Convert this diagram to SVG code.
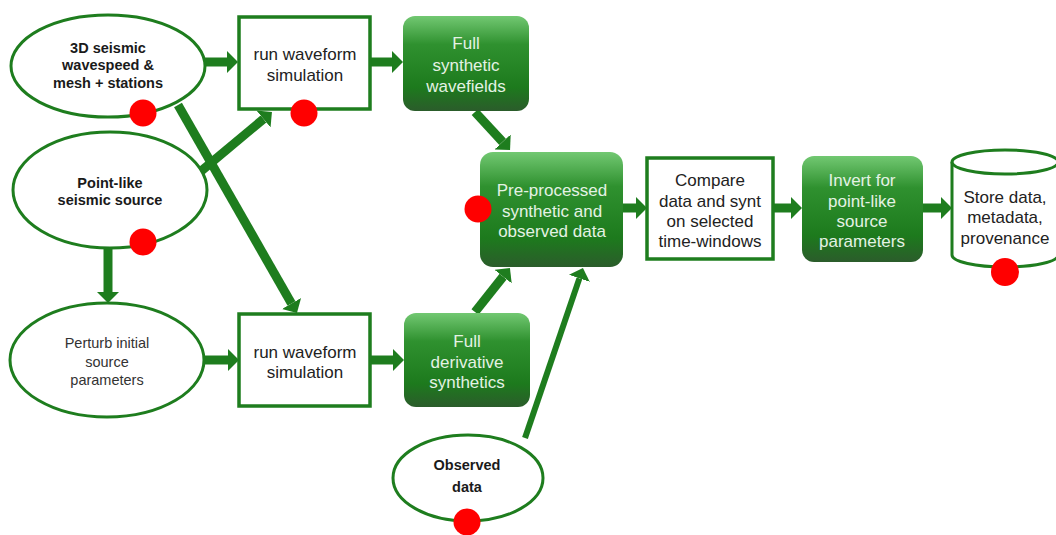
<svg xmlns="http://www.w3.org/2000/svg" width="1056" height="535" viewBox="0 0 1056 535">
<defs>
<linearGradient id="gg" x1="0" y1="0" x2="0" y2="1">
<stop offset="0" stop-color="#72c872"/>
<stop offset="0.3" stop-color="#2f912f"/>
<stop offset="0.75" stop-color="#1d7a1d"/>
<stop offset="1" stop-color="#2b5c2b"/>
</linearGradient>
<marker id="ah" markerUnits="userSpaceOnUse" markerWidth="12" markerHeight="22" refX="0" refY="11" orient="auto">
<path d="M0,0 L11,11 L0,22 z" fill="#1e7d1e"/>
</marker>
</defs>
<style>
.ell{fill:#fff;stroke:#1e7d1e;stroke-width:3}
.box{fill:#fff;stroke:#1e7d1e;stroke-width:3.5}
.gbox{fill:url(#gg);stroke:none}
.dot{fill:#ff0000}
.con{stroke:#1e7d1e;stroke-width:9;fill:none;marker-end:url(#ah)}
.thin{stroke-width:6}
text{font-family:"Liberation Sans",Arial,sans-serif;text-anchor:middle}
.b{font-weight:bold;font-size:14.5px;fill:#1a1a1a}
.n{font-size:17px;fill:#222}
.s{font-size:14.5px;fill:#333}
.w{font-size:17px;fill:#e4f2e4}
</style>
<g id="connectors">
<line class="con" x1="205" y1="62" x2="227" y2="62"/>
<line class="con" x1="370" y1="62" x2="392" y2="62"/>
<line class="con" x1="475" y1="112" x2="502.6" y2="141.9"/>
<line class="con" x1="623" y1="208" x2="636" y2="208"/>
<line class="con" x1="773" y1="208" x2="791" y2="208"/>
<line class="con" x1="923" y1="208" x2="941" y2="208"/>
<line class="con" x1="200" y1="172" x2="263.5" y2="119"/>
<line class="con" x1="178" y1="105" x2="291.5" y2="303.5"/>
<line class="con" x1="108" y1="248" x2="108" y2="292"/>
<line class="con" x1="204" y1="360" x2="228" y2="360"/>
<line class="con" x1="370" y1="360" x2="393" y2="360"/>
<line class="con" x1="475" y1="312" x2="503.1" y2="276.6"/>
<line class="con thin" x1="525" y1="438" x2="579.4" y2="278.4"/>
</g>
<g id="seismic-model">
<ellipse class="ell" cx="108" cy="66" rx="97" ry="51"/>
<text class="b" x="108" y="53">3D seismic</text>
<text class="b" x="108" y="70">wavespeed &amp;</text>
<text class="b" x="108" y="88">mesh + stations</text>
<circle class="dot" cx="143" cy="113" r="13.5"/>
</g>
<g id="run-sim-1">
<rect class="box" x="239" y="17" width="131" height="92"/>
<text class="n" x="305" y="60">run waveform</text>
<text class="n" x="305" y="81">simulation</text>
<circle class="dot" cx="304" cy="113" r="13.5"/>
</g>
<g id="full-synthetic">
<rect class="gbox" x="403" y="16" width="126" height="95" rx="12"/>
<text class="w" x="466" y="49">Full</text>
<text class="w" x="466" y="71">synthetic</text>
<text class="w" x="466" y="92">wavefields</text>
</g>
<g id="point-source">
<ellipse class="ell" cx="110" cy="190" rx="97" ry="58"/>
<text class="b" x="110" y="188">Point-like</text>
<text class="b" x="110" y="205">seismic source</text>
<circle class="dot" cx="143" cy="242" r="13.5"/>
</g>
<g id="perturb">
<ellipse class="ell" cx="107" cy="360" rx="97" ry="57"/>
<text class="s" x="107" y="348">Perturb initial</text>
<text class="s" x="107" y="367">source</text>
<text class="s" x="107" y="385">parameters</text>
</g>
<g id="run-sim-2">
<rect class="box" x="239" y="314" width="131" height="92"/>
<text class="n" x="305" y="358">run waveform</text>
<text class="n" x="305" y="378">simulation</text>
</g>
<g id="full-derivative">
<rect class="gbox" x="404" y="313" width="126" height="94" rx="12"/>
<text class="w" x="467" y="347">Full</text>
<text class="w" x="467" y="368">derivative</text>
<text class="w" x="467" y="388">synthetics</text>
</g>
<g id="observed">
<ellipse class="ell" cx="468" cy="478" rx="75" ry="43"/>
<text class="b" x="467" y="470">Observed</text>
<text class="b" x="467" y="492">data</text>
<circle class="dot" cx="467" cy="522" r="13.5"/>
</g>
<g id="preprocessed">
<rect class="gbox" x="480" y="152" width="143" height="115" rx="13"/>
<text class="w" x="552" y="196">Pre-processed</text>
<text class="w" x="552" y="217">synthetic and</text>
<text class="w" x="552" y="237">observed data</text>
<circle class="dot" cx="478" cy="209" r="13.5"/>
</g>
<g id="compare">
<rect class="box" x="647" y="158" width="126" height="101"/>
<text class="n" x="710" y="186">Compare</text>
<text class="n" x="710" y="207">data and synt</text>
<text class="n" x="710" y="227">on selected</text>
<text class="n" x="710" y="247">time-windows</text>
</g>
<g id="invert">
<rect class="gbox" x="802" y="156" width="121" height="106" rx="12"/>
<text class="w" x="862" y="186">Invert for</text>
<text class="w" x="862" y="207">point-like</text>
<text class="w" x="862" y="227">source</text>
<text class="w" x="862" y="247">parameters</text>
</g>
<g id="store">
<path class="ell" d="M952,162 L952,255 A53,12 0 0 0 1058,255 L1058,162"/>
<ellipse class="ell" cx="1005" cy="162" rx="53" ry="12"/>
<text class="n" x="1005" y="203">Store data,</text>
<text class="n" x="1005" y="223">metadata,</text>
<text class="n" x="1005" y="244">provenance</text>
<circle class="dot" cx="1005" cy="272" r="14"/>
</g>
</svg>
